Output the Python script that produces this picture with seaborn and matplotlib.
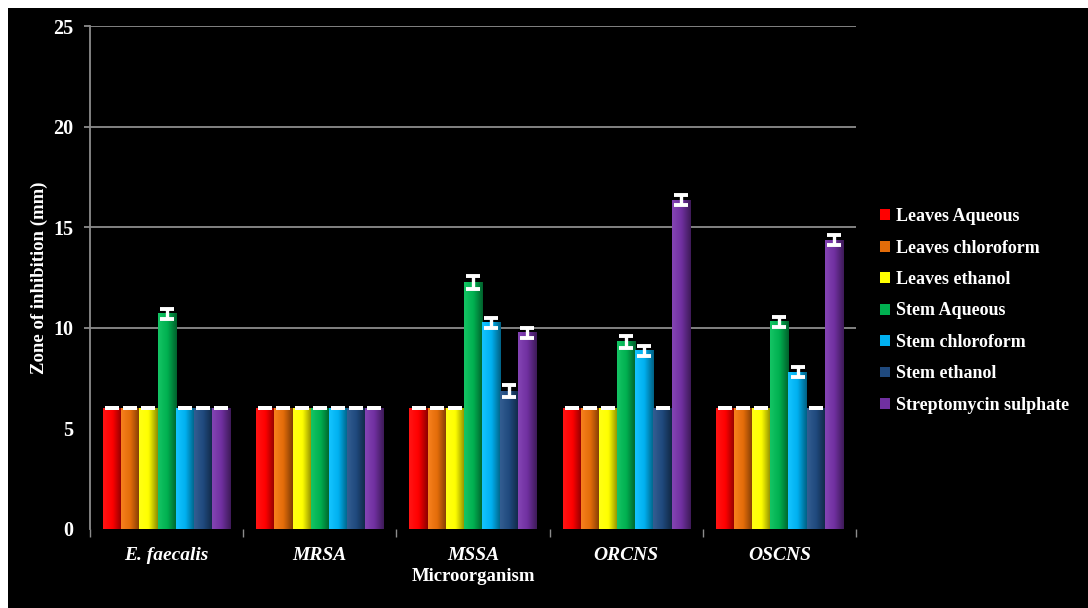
import numpy as np
import pandas as pd
import matplotlib
matplotlib.use("Agg")
import matplotlib.pyplot as plt
import matplotlib.patches as mpatches
from matplotlib.colors import LinearSegmentedColormap, to_rgb
import seaborn as sns

# ---- data -------------------------------------------------------------
organisms = ["E. faecalis", "MRSA", "MSSA", "ORCNS", "OSCNS"]
extracts = ["Leaves Aqueous", "Leaves chloroform", "Leaves ethanol",
            "Stem Aqueous", "Stem chloroform", "Stem ethanol",
            "Streptomycin sulphate"]

leaves_aqueous = [6, 6, 6, 6, 6]
leaves_chloroform = [6, 6, 6, 6, 6]
leaves_ethanol = [6, 6, 6, 6, 6]
stem_aqueous = [10.7, 6, 12.25, 9.3, 10.3]
stem_chloroform = [6, 6, 10.25, 8.85, 7.8]
stem_ethanol = [6, 6, 6.85, 6, 6]
streptomycin = [6, 6, 9.75, 16.35, 14.35]

# standard deviations
sd_leaves_aqueous = [0, 0, 0, 0, 0]
sd_leaves_chloroform = [0, 0, 0, 0, 0]
sd_leaves_ethanol = [0, 0, 0, 0, 0]
sd_stem_aqueous = [0.25, 0, 0.3, 0.3, 0.25]
sd_stem_chloroform = [0, 0, 0.25, 0.25, 0.25]
sd_stem_ethanol = [0, 0, 0.3, 0, 0]
sd_streptomycin = [0, 0, 0.25, 0.25, 0.25]

series = [leaves_aqueous, leaves_chloroform, leaves_ethanol, stem_aqueous,
          stem_chloroform, stem_ethanol, streptomycin]
errors = [sd_leaves_aqueous, sd_leaves_chloroform, sd_leaves_ethanol,
          sd_stem_aqueous, sd_stem_chloroform, sd_stem_ethanol,
          sd_streptomycin]

colors = ["#FF0000", "#E36C09", "#FFFF00", "#00B050", "#00B0F0",
          "#1F497D", "#7030A0"]

rows = []
for ext, vals, errs in zip(extracts, series, errors):
    for org, v, e in zip(organisms, vals, errs):
        rows.append({"Microorganism": org, "Extract": ext, "Zone": v, "SD": e})
df = pd.DataFrame(rows)

# ---- figure -----------------------------------------------------------
sns.set_theme(style="dark")
plt.rcParams["font.family"] = ["Liberation Serif", "DejaVu Serif"]

fig = plt.figure(figsize=(10.88, 6.08), dpi=100, facecolor="white")
# black panel with a thin white margin at top and left
fig.patches.append(mpatches.Rectangle((8 / 1088, 0), 1, 1 - 8 / 608,
                                      transform=fig.transFigure,
                                      facecolor="black", edgecolor="none",
                                      zorder=-10))
ax = fig.add_axes([90 / 1088, 1 - 529 / 608, (856 - 90) / 1088, (529 - 26) / 608])
ax.set_facecolor("black")

sns.barplot(data=df, x="Microorganism", y="Zone", hue="Extract",
            hue_order=extracts, order=organisms, palette=colors,
            width=0.83, errorbar=None, saturation=1, legend=False,
            linewidth=0, ax=ax, zorder=3)

ax.set_ylim(0, 25)
ax.set_xlim(-0.5, len(organisms) - 0.5)

# gradient shading and error bars on each bar
bar_containers = list(ax.containers)
for ci, cont in enumerate(bar_containers):
    base = np.array(to_rgb(colors[ci]))
    cmap = LinearSegmentedColormap.from_list(
        "g", [np.clip(base * 1.0 + 0.08, 0, 1), base, base * 0.55])
    grad = np.linspace(0, 1, 64).reshape(1, -1)
    sd = errors[ci]
    for bi, bar in enumerate(cont.patches):
        x0 = bar.get_x()
        w = bar.get_width()
        h = bar.get_height()
        ax.imshow(grad, extent=[x0, x0 + w, 0, h], cmap=cmap,
                  aspect="auto", zorder=3.5, interpolation="bicubic")
        ax.errorbar(x0 + w / 2, h, yerr=sd[bi], fmt="none", ecolor="white",
                    elinewidth=2.4, capsize=5, capthick=2.8, zorder=5)

ax.set_xlim(-0.5, len(organisms) - 0.5)
ax.set_ylim(0, 25)

# axes styling
ax.set_yticks([0, 5, 10, 15, 20, 25])
ax.grid(False)
for yv in [10, 15, 20, 25]:
    ax.axhline(yv, color="#8c8c8c", linewidth=1.3, zorder=1)
for side in ["top", "right", "bottom"]:
    ax.spines[side].set_visible(False)
ax.spines["left"].set_color("#8c8c8c")
ax.spines["left"].set_linewidth(1.3)

ax.set_xticks(np.arange(-0.5, len(organisms), 1.0), minor=True)
ax.tick_params(axis="x", which="minor", length=6, width=1, color="#8c8c8c",
               direction="out", bottom=True)
ax.tick_params(axis="x", which="major", length=0, pad=13)
ax.tick_params(axis="y", length=4, width=1.3, color="#8c8c8c", pad=8,
               left=True)
# only the gridded levels carry a tick mark
for tick, val in zip(ax.yaxis.get_major_ticks(), ax.get_yticks()):
    if val < 10:
        tick.tick1line.set_visible(False)

for lab in ax.get_xticklabels():
    lab.set_fontweight("bold")
    lab.set_fontstyle("italic")
    lab.set_fontsize(14)
    lab.set_color("white")
for lab in ax.get_yticklabels():
    lab.set_fontweight("bold")
    lab.set_fontsize(14.5)
    lab.set_color("white")

ax.set_ylabel("Zone of inhibition (mm)", color="white", fontsize=13.5,
              fontweight="bold", labelpad=4)
ax.set_xlabel("Microorganism", color="white", fontsize=13.5,
              fontweight="bold", labelpad=3)

handles = [mpatches.Patch(facecolor=c, edgecolor="none") for c in colors]
leg = fig.legend(handles, extracts, loc="center left",
                 bbox_to_anchor=(864 / 1088, 1 - 311 / 608),
                 frameon=False, handlelength=0.55, handleheight=0.55,
                 handletextpad=0.3, labelspacing=0.8,
                 prop={"family": "Liberation Serif", "weight": "bold",
                       "size": 13})
for t in leg.get_texts():
    t.set_color("white")

fig.savefig("out.png", dpi=100, facecolor="white")
